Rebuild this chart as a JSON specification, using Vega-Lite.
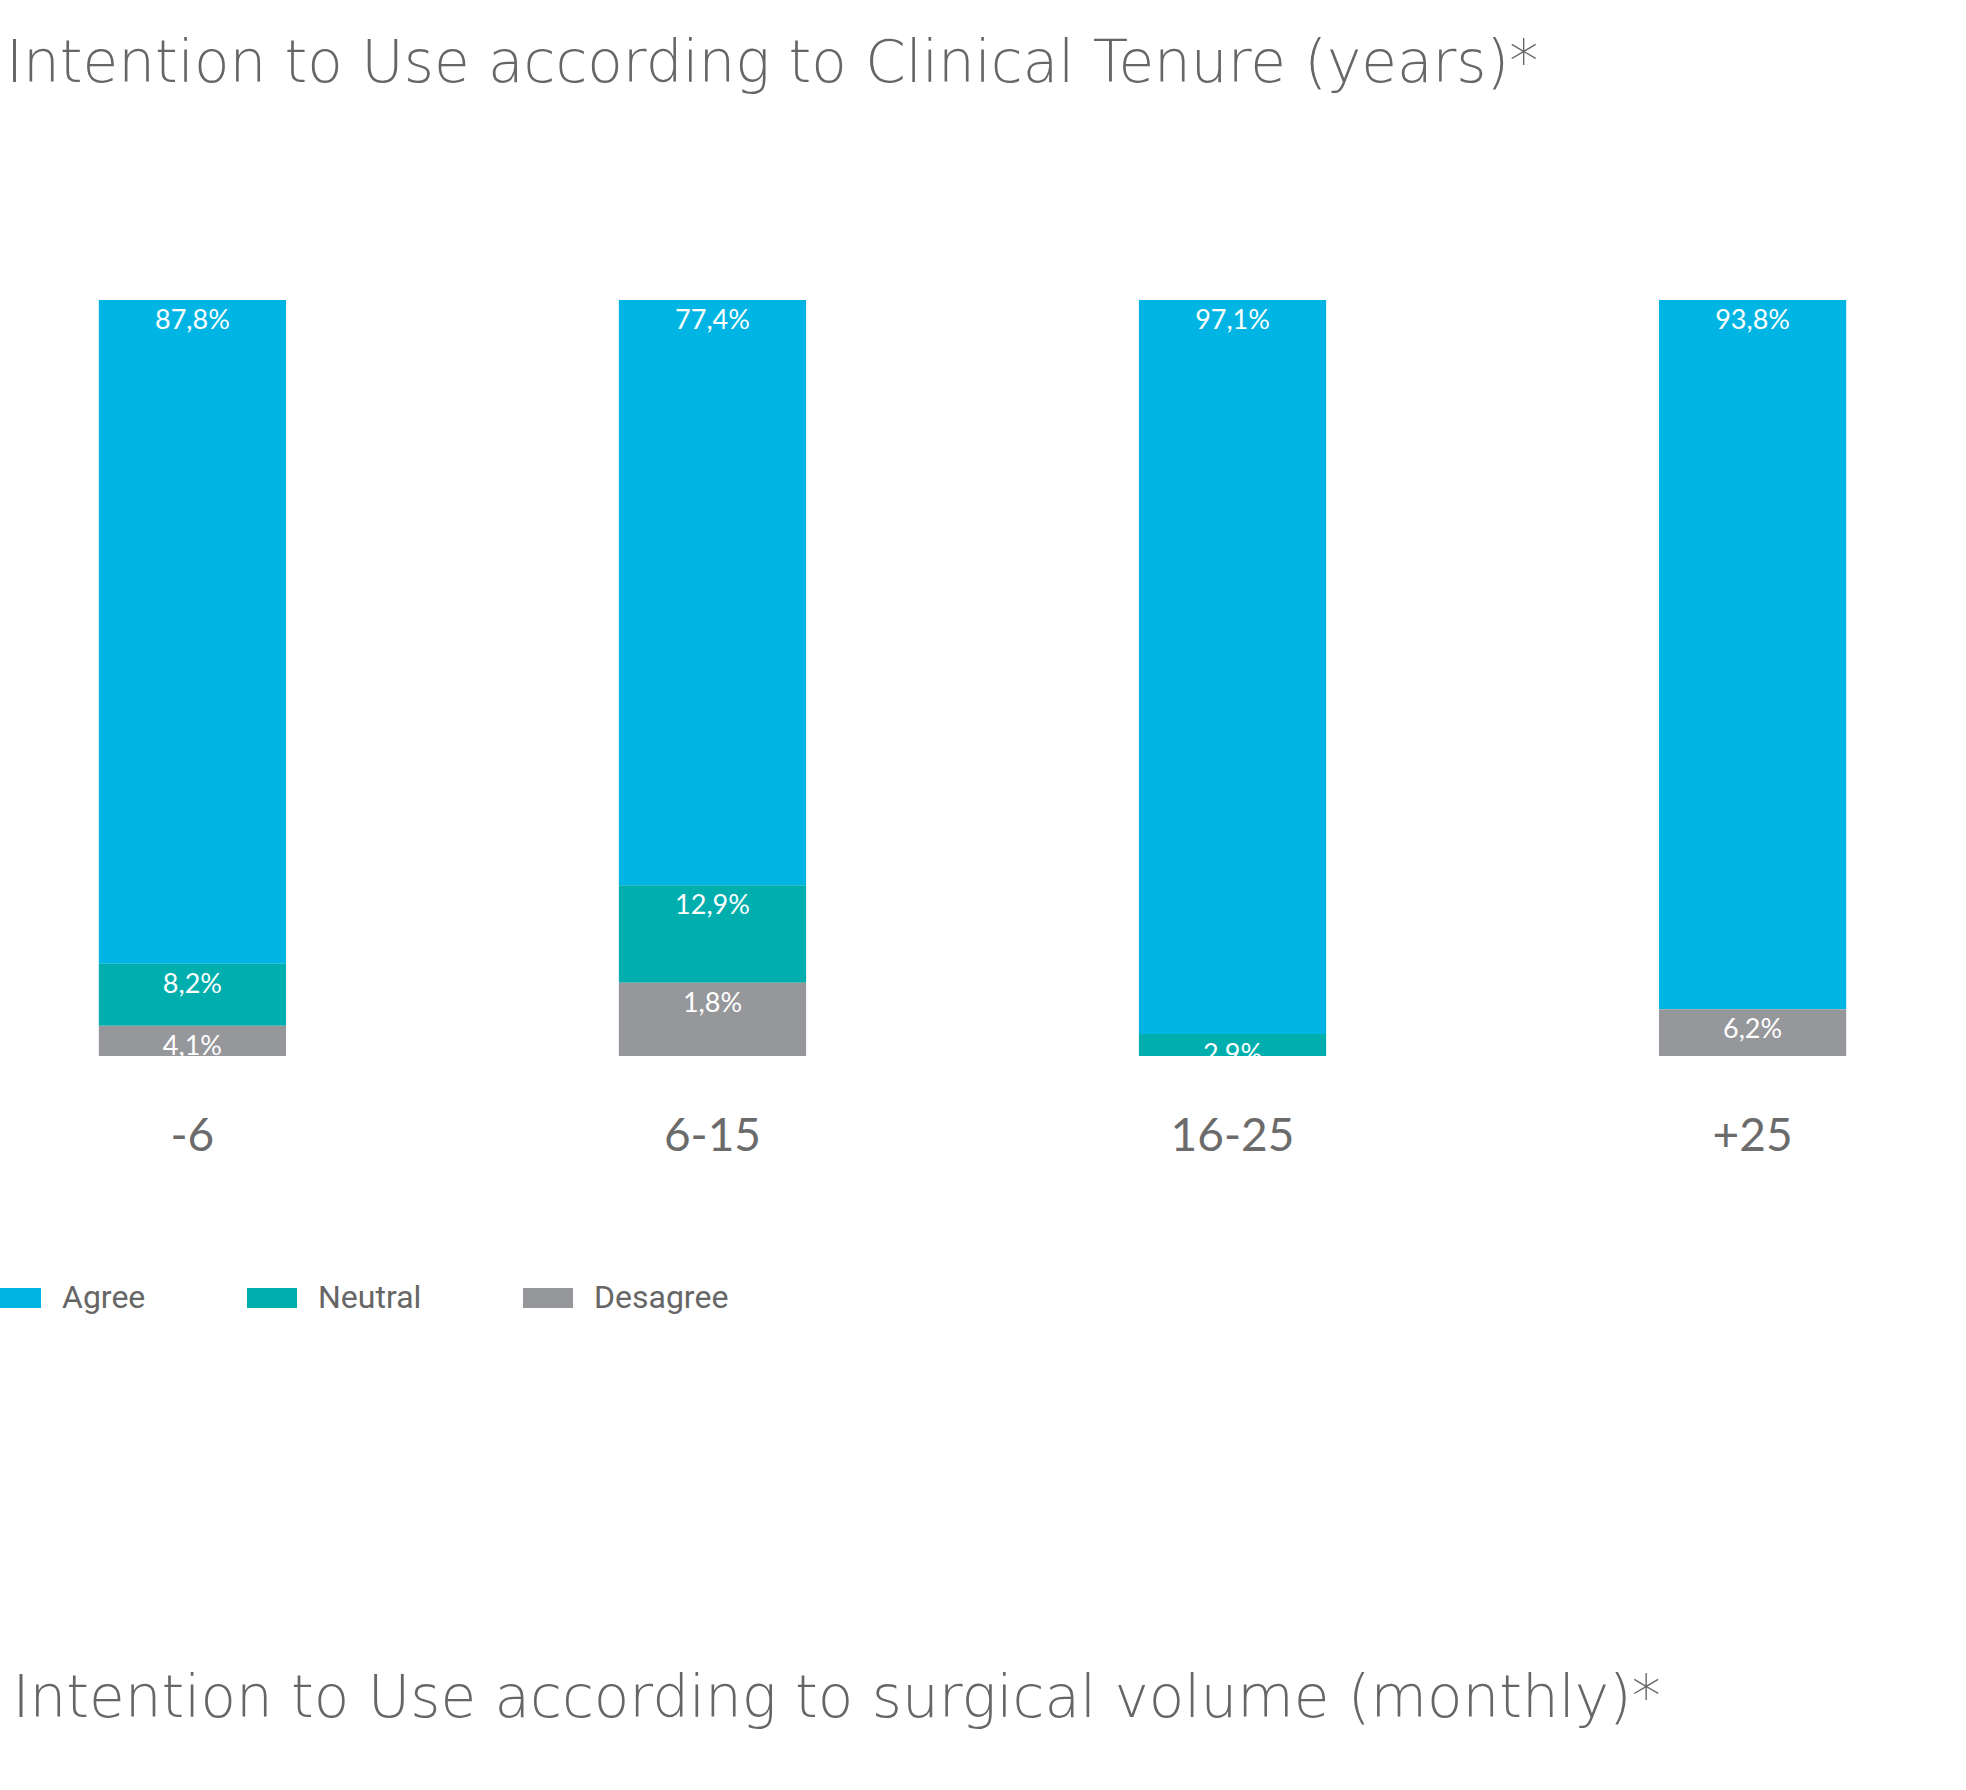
{
  "$schema": "https://vega.github.io/schema/vega-lite/v6.json",
  "autosize": {"type": "none"},
  "padding": {"left": 0, "top": 300, "right": 21, "bottom": 734},
  "width": 1945,
  "height": 756,
  "background": "white",
  "config": {"view": {"stroke": null}},
  "title": {
    "text": "Intention to Use according to Clinical Tenure (years)*",
    "anchor": "start",
    "frame": "group",
    "orient": "top",
    "font": "DejaVu Sans",
    "fontWeight": 200,
    "fontSize": 58,
    "color": "#666666",
    "baseline": "alphabetic",
    "offset": 160,
    "dx": 6
  },
  "data": {
    "values": [
      {"tenure": "-6", "response": "Agree", "rank": 3, "pct": 87.8, "label": "87,8%"},
      {"tenure": "-6", "response": "Neutral", "rank": 2, "pct": 8.2, "label": "8,2%"},
      {"tenure": "-6", "response": "Desagree", "rank": 1, "pct": 4.0, "label": "4,1%"},
      {"tenure": "6-15", "response": "Agree", "rank": 3, "pct": 77.4, "label": "77,4%"},
      {"tenure": "6-15", "response": "Neutral", "rank": 2, "pct": 12.9, "label": "12,9%"},
      {"tenure": "6-15", "response": "Desagree", "rank": 1, "pct": 9.7, "label": "1,8%"},
      {"tenure": "16-25", "response": "Agree", "rank": 3, "pct": 97.1, "label": "97,1%"},
      {"tenure": "16-25", "response": "Neutral", "rank": 2, "pct": 2.9, "label": "2,9%"},
      {"tenure": "+25", "response": "Agree", "rank": 3, "pct": 93.8, "label": "93,8%"},
      {"tenure": "+25", "response": "Desagree", "rank": 1, "pct": 6.2, "label": "6,2%"}
    ]
  },
  "transform": [
    {"stack": "pct", "groupby": ["tenure"], "sort": [{"field": "rank", "order": "ascending"}], "as": ["y0", "y1"]}
  ],
  "encoding": {
    "x": {
      "field": "tenure",
      "type": "nominal",
      "sort": ["-6", "6-15", "16-25", "+25"],
      "scale": {"paddingInner": 0.64, "paddingOuter": 0.19},
      "axis": {
        "domain": false,
        "ticks": false,
        "grid": false,
        "labelAngle": 0,
        "labelFont": "Lato",
        "labelFontSize": 46,
        "labelColor": "#6b6b6b",
        "labelPadding": 58,
        "title": "Intention to Use according to surgical volume (monthly)*",
        "titleX": 12,
        "titleY": 660,
        "titleAlign": "left",
        "titleBaseline": "alphabetic",
        "titleFont": "DejaVu Sans",
        "titleFontWeight": 200,
        "titleFontSize": 58,
        "titleColor": "#666666"
      }
    }
  },
  "layer": [
    {
      "mark": {"type": "bar"},
      "encoding": {
        "y": {"field": "y1", "type": "quantitative", "scale": {"domain": [0, 100], "nice": false}, "axis": null},
        "y2": {"field": "y0"},
        "color": {
          "field": "response",
          "type": "nominal",
          "scale": {"domain": ["Agree", "Neutral", "Desagree"], "range": ["#00b5e3", "#00aead", "#96979b"]},
          "legend": {
            "orient": "none",
            "legendX": -9,
            "legendY": 973,
            "direction": "horizontal",
            "title": null,
            "symbolType": "M-1,-0.4h2v0.8h-2z",
            "symbolSize": 2500,
            "symbolStrokeWidth": 0,
            "symbolOpacity": 1,
            "labelFont": "Roboto",
            "labelFontSize": 32,
            "labelColor": "#666666",
            "labelOffset": 21,
            "columnPadding": 101
          }
        }
      }
    },
    {
      "mark": {"type": "text", "baseline": "alphabetic", "dy": 29, "color": "white", "font": "Lato", "fontSize": 27},
      "encoding": {
        "y": {"field": "y1", "type": "quantitative"},
        "text": {"field": "label", "type": "nominal"}
      }
    }
  ]
}
